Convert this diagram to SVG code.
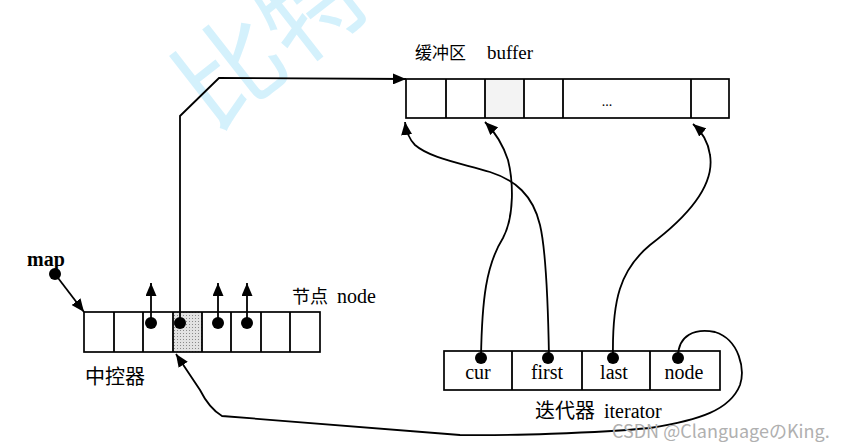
<svg xmlns="http://www.w3.org/2000/svg" width="852" height="448" viewBox="0 0 852 448">
<style>
.box{fill:none;stroke:#000;stroke-width:1.7}
.ln{fill:none;stroke:#000;stroke-width:1.8}
.dot{fill:#000}
.cn{font-family:"Noto Sans CJK SC",sans-serif;fill:#000}
.ser{font-family:"Liberation Serif",serif;fill:#000}
.lat{font-family:"Liberation Serif",serif;font-size:20px;fill:#000}
.wm{font-family:"Noto Sans CJK SC",sans-serif;fill:#d4f1fc}
</style>
<defs>
<marker id="ah" viewBox="0 0 13 11" refX="13" refY="5.5" markerWidth="13" markerHeight="11" markerUnits="userSpaceOnUse" orient="auto"><path d="M0,0 L13,5.5 L0,11 z" fill="#000"/></marker>
<pattern id="dots" width="3" height="3" patternUnits="userSpaceOnUse"><rect width="3" height="3" fill="#e2e2e2"/><rect width="1" height="1" fill="#8a8a8a"/></pattern>
</defs>
<rect width="852" height="448" fill="#fff"/>
<text class="wm" font-size="105" transform="translate(212,133) rotate(-38)">比特</text>

<g id="buffer">
<rect x="485" y="79" width="39" height="39" fill="#f3f3f3"/>
<rect class="box" x="406" y="79" width="323" height="39"/>
<path class="ln" d="M446,79V118M485,79V118M524,79V118M563,79V118M691,79V118"/>
<text x="607" y="106" font-family="Liberation Serif,serif" font-size="14" text-anchor="middle">...</text>
<text class="cn" x="415" y="59" font-size="17">缓冲区</text>
<text class="ser" x="487" y="59" font-size="19">buffer</text>
</g>

<g id="map">
<rect x="173" y="312" width="29" height="40" fill="url(#dots)"/>
<rect class="box" x="84" y="312" width="236" height="40"/>
<path class="ln" d="M114,312V352M143,312V352M173,312V352M202,312V352M231,312V352M261,312V352M290,312V352"/>
<circle class="dot" cx="151" cy="323" r="6"/>
<circle class="dot" cx="180" cy="323" r="6"/>
<circle class="dot" cx="218" cy="323" r="6"/>
<circle class="dot" cx="247" cy="323" r="6"/>
<text class="cn" x="292" y="303" font-size="18">节点</text>
<text class="ser" x="337" y="303" font-size="20">node</text>
<text class="cn" x="85" y="384" font-size="20">中控器</text>
</g>

<g id="mapptr">
<text x="27" y="266" font-family="Liberation Serif,serif" font-size="20" font-weight="bold">map</text>
<circle class="dot" cx="55" cy="274" r="6"/>
</g>

<g id="iterator">
<rect class="box" x="444" y="351" width="276" height="39"/>
<path class="ln" d="M512,351V390M582,351V390M650,351V390"/>
<circle class="dot" cx="481" cy="358" r="6"/>
<circle class="dot" cx="548" cy="358" r="6"/>
<circle class="dot" cx="613" cy="358" r="6"/>
<circle class="dot" cx="678" cy="358" r="6"/>
<text class="lat" x="478" y="379" text-anchor="middle">cur</text>
<text class="lat" x="547" y="379" text-anchor="middle">first</text>
<text class="lat" x="614" y="379" text-anchor="middle">last</text>
<text class="lat" x="684" y="379" text-anchor="middle">node</text>
<text class="cn" x="535" y="418" font-size="20">迭代器</text>
<text class="ser" x="604" y="418" font-size="20">iterator</text>
</g>

<g id="connectors">
<path class="ln" marker-end="url(#ah)" d="M55,274 L84,312"/>
<path class="ln" marker-end="url(#ah)" d="M151,323 V283"/>
<path class="ln" marker-end="url(#ah)" d="M218,323 V283"/>
<path class="ln" marker-end="url(#ah)" d="M247,323 V283"/>
<path class="ln" marker-end="url(#ah)" d="M180,323 V116 L219,78 L406,79"/>
<path class="ln" marker-end="url(#ah)" d="M481,357 C482,300 486,265 503,238 C515,215 513,180 508,160 C503,145 495,132 485,122"/>
<path class="ln" marker-end="url(#ah)" d="M549,357 C548,300 546,250 540,225 C533,195 515,180 490,172 C460,163 430,158 415,145 C408,138 406,130 405,122"/>
<path class="ln" marker-end="url(#ah)" d="M613,357 C612,300 620,270 650,245 C690,215 715,185 710,155 C708,140 700,130 693,124"/>
<path class="ln" marker-end="url(#ah)" d="M678,357 C678,335 695,328 715,332 C740,340 745,370 740,385 C730,410 700,420 650,428 C600,433 500,436 460,435 L222,416 C212,410 205,400 200,390 L176,354"/>
</g>

<text x="612" y="438" font-family="Noto Sans CJK SC,sans-serif" font-size="18" fill="#b0b0b0">CSDN @ClanguageのKing.</text>
</svg>
